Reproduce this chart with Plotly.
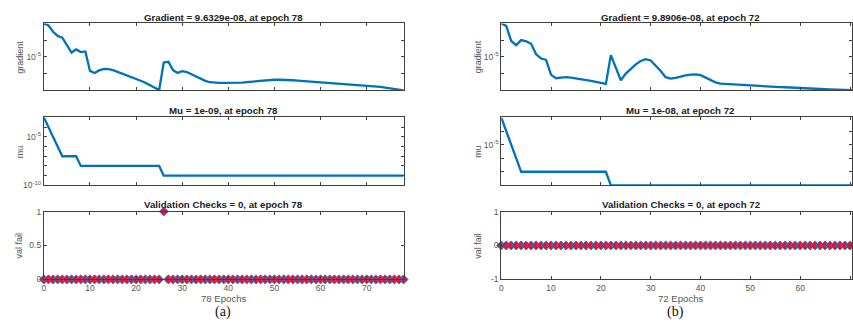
import plotly.graph_objects as go

# ---------------- data ----------------
epochs_a = list(range(0, 79))
epochs_b = list(range(0, 73))

# log10 of the gradient, panel (a), epochs 0..78
grad_a_log10 = [-3.0, -3.12, -3.5, -3.75, -3.85, -4.3, -4.75, -4.56, -4.72, -4.68,
                -5.85, -5.98, -5.82, -5.73, -5.74, -5.8, -5.9, -6.0, -6.1, -6.22,
                -6.33, -6.44, -6.56, -6.7, -6.85, -7.0, -5.34, -5.3, -5.8, -5.97,
                -5.87, -5.92, -6.05, -6.2, -6.33, -6.45, -6.53, -6.56, -6.57, -6.57,
                -6.57, -6.57, -6.56, -6.55, -6.52, -6.49, -6.46, -6.43, -6.41, -6.39,
                -6.38, -6.38, -6.38, -6.39, -6.41, -6.43, -6.45, -6.47, -6.49, -6.51,
                -6.53, -6.55, -6.57, -6.59, -6.61, -6.63, -6.64, -6.66, -6.68, -6.7,
                -6.72, -6.74, -6.77, -6.81, -6.85, -6.89, -6.93, -6.97, -7.016]

# log10 of the gradient, panel (b), epochs 0..72
grad_b_log10 = [-3.0, -3.15, -4.05, -4.3, -4.0, -4.07, -4.22, -4.85, -5.1, -5.18,
                -6.08, -6.28, -6.25, -6.22, -6.24, -6.28, -6.33, -6.38, -6.44, -6.5,
                -6.56, -6.62, -4.9, -5.66, -6.4, -6.0, -5.7, -5.45, -5.25, -5.14,
                -5.22, -5.52, -5.85, -6.22, -6.3, -6.26, -6.18, -6.11, -6.07, -6.05,
                -6.1, -6.24, -6.38, -6.53, -6.61, -6.63, -6.65, -6.66, -6.68, -6.69,
                -6.71, -6.72, -6.74, -6.76, -6.77, -6.79, -6.81, -6.82, -6.84, -6.85,
                -6.87, -6.88, -6.9, -6.91, -6.92, -6.94, -6.95, -6.96, -6.97, -6.98,
                -6.99, -7.0, -7.005]

mu_a = [1e-3, 1e-4, 1e-5, 1e-6, 1e-7, 1e-7, 1e-7, 1e-7] + [1e-8] * 18 + [1e-9] * 53
mu_b = [1e-3, 1e-4, 1e-5, 1e-6] + [1e-7] * 18 + [1e-8] * 51

valfail_a = [0] * 26 + [1] + [0] * 52
valfail_b = [0] * 73

titles_a = ["Gradient = 9.6329e-08, at epoch 78", "Mu = 1e-09, at epoch 78",
            "Validation Checks = 0, at epoch 78"]
titles_b = ["Gradient = 9.8906e-08, at epoch 72", "Mu = 1e-08, at epoch 72",
            "Validation Checks = 0, at epoch 72"]
ylabels = ["gradient", "mu", "val fail"]
xlabel_a = "78 Epochs"
xlabel_b = "72 Epochs"
captions = ["(a)", "(b)"]
x_ticks = [0, 10, 20, 30, 40, 50, 60, 70]

# ---------------- styling ----------------
W, H = 853, 329
BLUE = "#0072BD"
AXC = "#404040"
TXT = "#555555"
FONT = "Liberation Sans, Arial, sans-serif"

def px_x(p):
    return p / W

def px_y(p):
    return 1 - p / H

col_dom = [[px_x(42), px_x(403)], [px_x(501), 1.0]]
col_range = [[0, 78], [0, 70.4]]
row_dom = [[px_y(88), px_y(19)], [px_y(186), px_y(116)], [px_y(283), px_y(213)]]
title_y = [12.5, 108.5, 205.5]

fig = go.Figure()
layout = dict(width=W, height=H, margin=dict(l=0, r=0, t=0, b=0),
              paper_bgcolor="white", plot_bgcolor="white", showlegend=False,
              font=dict(family=FONT, size=9, color=TXT))
annotations = []

def dec_ticks(lo, hi, labeled):
    major_vals = [10.0 ** k for k in labeled]
    major_text = ["10<sup>%d</sup>" % k for k in labeled]
    minor_vals = [10.0 ** k for k in range(lo, hi + 1) if k not in labeled]
    return major_vals, major_text, minor_vals

panels = []
panels.append((0, 0, epochs_a, [10 ** v for v in grad_a_log10], "log", [-7.016, -3.0], dec_ticks(-7, -3, [-5])))
panels.append((0, 1, epochs_a, mu_a, "log", [-10, -3], dec_ticks(-10, -3, [-5, -10])))
panels.append((0, 2, epochs_a, valfail_a, "val", [0, 1], ([0, 0.5, 1], ["0", "0.5", "1"], None)))
panels.append((1, 0, epochs_b, [10 ** v for v in grad_b_log10], "log", [-7.005, -3.0], dec_ticks(-7, -3, [-5])))
panels.append((1, 1, epochs_b, mu_b, "log", [-8, -3], dec_ticks(-8, -3, [-5])))
panels.append((1, 2, epochs_b, valfail_b, "val", [-1, 1], ([-1, 0, 1], ["-1", "0", "1"], None)))

for i, (c, r, xs, ys, kind, yr, (tv, tt, mv)) in enumerate(panels):
    n = i + 1
    xa = "x" if n == 1 else "x%d" % n
    ya = "y" if n == 1 else "y%d" % n
    xkey = "xaxis" if n == 1 else "xaxis%d" % n
    ykey = "yaxis" if n == 1 else "yaxis%d" % n
    if kind == "log":
        fig.add_trace(go.Scatter(x=xs, y=ys, xaxis=xa, yaxis=ya, mode="lines",
                                 line=dict(color=BLUE, width=2.3), hoverinfo="skip"))
    else:
        fig.add_trace(go.Scatter(x=xs, y=ys, xaxis=xa, yaxis=ya, mode="markers",
                                 cliponaxis=False,
                                 marker=dict(symbol="diamond", size=7, color="#d41a3c",
                                             line=dict(color="#3a7fc4", width=1)),
                                 hoverinfo="skip"))
    layout[xkey] = dict(domain=col_dom[c], range=col_range[c], anchor=ya,
                        showgrid=False, zeroline=False, showline=True, mirror="ticks",
                        linecolor=AXC, linewidth=1, ticks="inside", ticklen=3,
                        tickcolor=AXC, tickvals=x_ticks,
                        showticklabels=(r == 2),
                        tickfont=dict(size=8.5, color=TXT, family=FONT))
    yax = dict(domain=row_dom[r], anchor=xa,
               type="log" if kind == "log" else "linear",
               range=yr, showgrid=False, zeroline=False, showline=True,
               mirror="ticks", linecolor=AXC, linewidth=1, ticks="inside",
               ticklen=3, tickcolor=AXC, tickvals=tv, ticktext=tt,
               tickfont=dict(size=8.5, color=TXT, family=FONT))
    if mv:
        yax["minor"] = dict(tickvals=mv, ticks="inside", ticklen=3, tickcolor=AXC,
                            showgrid=False)
    layout[ykey] = yax
    tlist = titles_a if c == 0 else titles_b
    cx = (42 + 403) / 2 if c == 0 else (501 + 861) / 2
    annotations.append(dict(x=px_x(cx), y=px_y(title_y[r]), xref="paper", yref="paper",
                            text="<b>%s</b>" % tlist[r], showarrow=False,
                            xanchor="center", yanchor="middle",
                            font=dict(size=9.7, color="#222222", family=FONT)))
    ylx = 18 if c == 0 else 478
    ycen = [53.5, 151, 248][r]
    annotations.append(dict(x=px_x(ylx), y=px_y(ycen), xref="paper", yref="paper",
                            text=ylabels[r], showarrow=False, textangle=-90,
                            xanchor="center", yanchor="middle",
                            font=dict(size=9, color=TXT, family=FONT)))

for c, (lab, cx) in enumerate([(xlabel_a, 222.5), (xlabel_b, 681)]):
    annotations.append(dict(x=px_x(cx), y=px_y(302.5), xref="paper", yref="paper",
                            text=lab, showarrow=False, xanchor="center", yanchor="middle",
                            font=dict(size=9.6, color=TXT, family=FONT)))
for cap, cx in zip(captions, [221.5, 676]):
    annotations.append(dict(x=px_x(cx), y=px_y(317), xref="paper", yref="paper",
                            text=cap, showarrow=False, xanchor="center", yanchor="middle",
                            font=dict(size=14, color="#111111",
                                      family="Liberation Serif, Times New Roman, serif")))

layout["annotations"] = annotations
fig.update_layout(**layout)
fig.write_html("out.html", config={"displayModeBar": False},
               post_script="document.body.style.margin='0px';document.body.style.overflow='hidden';")
